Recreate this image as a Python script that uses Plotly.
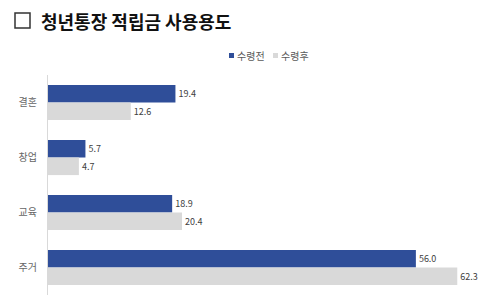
import plotly.graph_objects as go

categories = ["결혼", "창업", "교육", "주거"]
before = [19.4, 5.7, 18.9, 56.0]
after = [12.6, 4.7, 20.4, 62.3]
labels_before = ["19.4", "5.7", "18.9", "56.0"]
labels_after = ["12.6", "4.7", "20.4", "62.3"]
series_names = ["수령전", "수령후"]

BLUE = "#2F4E99"
GRAY = "#D9D9D9"
FONT = "Noto Sans CJK KR"

L, T, W, H = 48, 75, 427, 220

def px(x):
    return (x - L) / W

def py(y):
    return 1 + (T - y) / H

fig = go.Figure()
fig.add_trace(go.Bar(
    y=categories, x=before, orientation="h", name=series_names[0],
    marker=dict(color=BLUE, line=dict(width=0)),
    text=labels_before, textposition="outside", cliponaxis=False,
    textfont=dict(size=9, color="#404040", family=FONT),
))
fig.add_trace(go.Bar(
    y=categories, x=after, orientation="h", name=series_names[1],
    marker=dict(color=GRAY, line=dict(width=0)),
    text=labels_after, textposition="outside", cliponaxis=False,
    textfont=dict(size=9, color="#404040", family=FONT),
))

fig.update_layout(
    width=500, height=301,
    margin=dict(l=L, r=500 - L - W, t=T, b=301 - T - H),
    paper_bgcolor="white", plot_bgcolor="white",
    barmode="group", bargap=0.36, bargroupgap=0.0,
    showlegend=False,
    xaxis=dict(range=[0, 65], showgrid=False, showticklabels=False, zeroline=False,
               showline=False, ticks=""),
    yaxis=dict(autorange="reversed", showgrid=False, showline=True, linecolor="#D9D9D9",
               linewidth=1, ticks="", tickfont=dict(size=10, color="#666666", family=FONT),
               ticklabelstandoff=8),
    font=dict(family=FONT),
)

# manual legend
for (x0, color, name) in [(229, BLUE, series_names[0]), (273, GRAY, series_names[1])]:
    fig.add_shape(type="rect", xref="paper", yref="paper",
                  x0=px(x0), x1=px(x0 + 5), y0=py(58), y1=py(53),
                  fillcolor=color, line=dict(width=0))
    fig.add_annotation(text=name, xref="paper", yref="paper",
                       x=px(x0 + 6), y=py(55.5), xanchor="left", yanchor="middle",
                       showarrow=False, font=dict(size=10, color="#595959", family=FONT))

# title
fig.add_shape(type="rect", xref="paper", yref="paper",
              x0=px(15), x1=px(30), y0=py(28), y1=py(13),
              line=dict(color="#333333", width=1.5))
fig.add_annotation(text="<b>청년통장 적립금 사용용도</b>", xref="paper", yref="paper",
                   x=px(39), y=py(21), xanchor="left", yanchor="middle",
                   showarrow=False, font=dict(size=18, color="#111111", family=FONT))

fig.write_html("out.html")
